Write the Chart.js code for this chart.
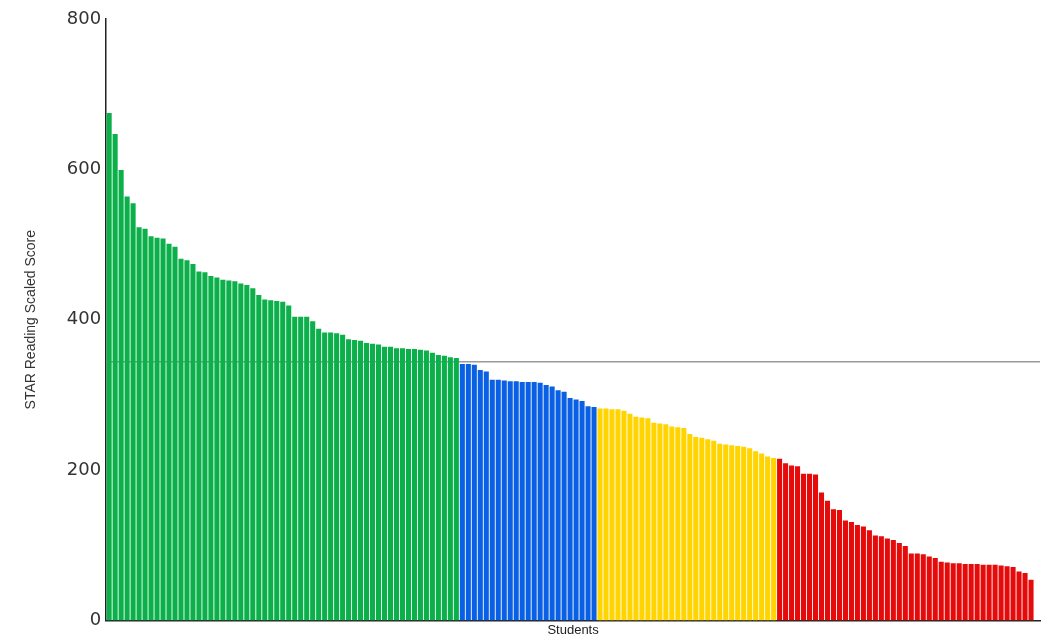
<!DOCTYPE html>
<html>
<head>
<meta charset="utf-8">
<script src="https://cdn.jsdelivr.net/npm/chart.js@4/dist/chart.umd.min.js"></script>
<style>
  html, body { margin: 0; padding: 0; background: #fff; }
  #wrap { width: 1053px; height: 640px; position: relative; }
</style>
</head>
<body>
<div id="wrap"><canvas id="scoresChart"></canvas></div>
<script>
// scores, sorted high to low, one array per band
const greenScores = [675, 647, 599, 564, 555, 523, 521, 511, 509, 508,
  501, 497, 481, 479, 474, 464, 463, 458, 456, 453,
  452, 451, 448, 446, 442, 433, 427, 426, 425, 424,
  419, 404, 404, 404, 398, 388, 383, 383, 382, 380,
  374, 373, 372, 369, 368, 367, 364, 364, 362, 362,
  361, 361, 360, 359, 356, 353, 352, 350, 349];
const blueScores = [341, 341, 340, 333, 331, 320, 320, 319, 318, 318,
  317, 317, 317, 316, 313, 311, 306, 304, 296, 294,
  292, 285, 284];
const yellowScores = [282, 282, 281, 281, 279, 275, 271, 270, 269, 263,
  262, 261, 258, 257, 256, 248, 244, 243, 241, 239,
  235, 234, 233, 232, 231, 229, 225, 222, 218, 216];
const redScores = [215, 209, 206, 205, 195, 195, 194, 170, 159, 148,
  147, 133, 131, 127, 125, 120, 113, 112, 109, 107,
  103, 99, 89, 89, 88, 85, 83, 78, 77, 76,
  76, 75, 75, 75, 74, 74, 74, 73, 72, 71,
  65, 63, 54];
const benchmark = 344;
const yTicks = [0, 200, 400, 600, 800];

const bandColors = {
  green: '#0cb04a',
  blue: '#0a60e4',
  yellow: '#ffd400',
  red: '#e60b0b'
};

document.addEventListener('DOMContentLoaded', function() {
  const scores = [].concat(greenScores, blueScores, yellowScores, redScores);
  // one empty slot at the end, the axis runs a little past the last bar
  const labels = scores.map((v, i) => 'Student ' + (i + 1)).concat(['']);
  const colors = [].concat(
    greenScores.map(() => bandColors.green),
    blueScores.map(() => bandColors.blue),
    yellowScores.map(() => bandColors.yellow),
    redScores.map(() => bandColors.red)
  );

  // grey benchmark line, drawn behind the bars
  const benchmarkLine = {
    id: 'benchmarkLine',
    beforeDatasetsDraw(chart) {
      const y = chart.scales.y.getPixelForValue(benchmark);
      const area = chart.chartArea;
      const c = chart.ctx;
      c.save();
      c.strokeStyle = '#9a9a9a';
      c.lineWidth = 1.5;
      c.beginPath();
      c.moveTo(area.left, y);
      c.lineTo(area.right, y);
      c.stroke();
      c.restore();
    }
  };

  new Chart(document.getElementById('scoresChart'), {
    type: 'bar',
    data: {
      labels: labels,
      datasets: [{
        label: 'STAR Reading Scaled Score',
        data: scores,
        backgroundColor: colors,
        borderWidth: 0,
        categoryPercentage: 1,
        barPercentage: 0.85
      }]
    },
    options: {
      responsive: true,
      maintainAspectRatio: false,
      animation: false,
      layout: { padding: { left: 23, right: 13, top: 19, bottom: 2 } },
      plugins: {
        legend: { display: false },
        tooltip: { enabled: false }
      },
      scales: {
        x: {
          grid: { display: false, drawTicks: false },
          border: { display: true, color: '#222', width: 1.5 },
          ticks: { display: false },
          title: {
            display: true,
            text: 'Students',
            color: '#222',
            font: { family: "'Liberation Sans', Arial, sans-serif", size: 13 },
            padding: { top: 2, bottom: 0 }
          }
        },
        y: {
          min: 0,
          max: 800,
          afterBuildTicks: (scale) => {
            scale.ticks = yTicks.map(v => ({ value: v }));
          },
          grid: { display: false, drawTicks: false },
          border: { display: true, color: '#222', width: 1.5 },
          ticks: {
            color: '#333',
            padding: 5,
            font: { family: "'DejaVu Sans', sans-serif", size: 18 }
          },
          title: {
            display: true,
            text: 'STAR Reading Scaled Score',
            color: '#333',
            font: { family: "'Liberation Sans', Arial, sans-serif", size: 14 },
            padding: { top: 0, bottom: 22 }
          }
        }
      }
    },
    plugins: [benchmarkLine]
  });
});
</script>
</body>
</html>
